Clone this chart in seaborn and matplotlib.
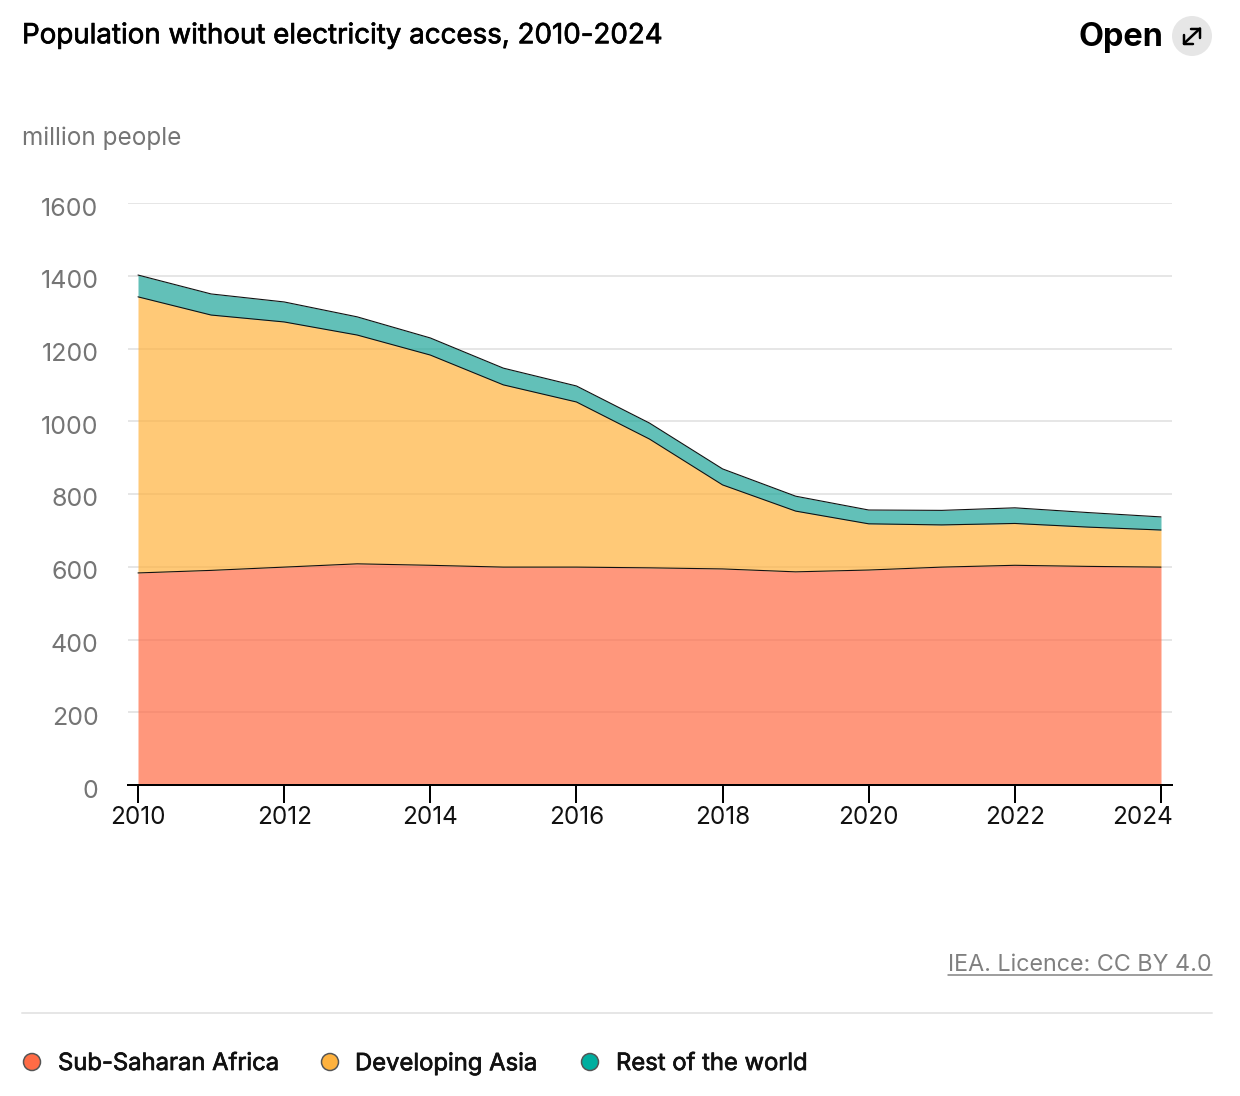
import matplotlib
matplotlib.use('Agg')
import matplotlib.pyplot as plt
import matplotlib.patheffects as pe
from matplotlib.patches import Circle
from matplotlib.transforms import ScaledTranslation
import pandas as pd
import seaborn as sns

years = list(range(2010, 2025))
africa = [583, 590, 599, 608, 604, 599, 599, 597, 594, 586, 591, 599, 604, 601, 599]
asia = [759, 702, 674, 629, 578, 501, 454, 354, 231, 167, 127, 116, 115, 108, 102]
rest = [60, 58, 55, 50, 47, 46, 44, 44, 44, 41, 38, 40, 43, 40, 36]
names = ['Sub-Saharan Africa', 'Developing Asia', 'Rest of the world']
fill_colors = ['#FF6B45', '#FFB23E', '#1FA69A']
legend_colors = ['#FF6B45', '#FFB23E', '#00AE9F']
yticks = [0, 200, 400, 600, 800, 1000, 1200, 1400, 1600]
xticks = [2010, 2012, 2014, 2016, 2018, 2020, 2022, 2024]

W, H = 1240, 1096
PX = 0.72  # one pixel in points

sns.set_theme(style='white')
plt.rcParams['font.family'] = ['Inter', 'DejaVu Sans']

fig = plt.figure(figsize=(W / 100, H / 100), dpi=100, facecolor='white')
ax = fig.add_axes([128 / W, 1 - 785 / H, (1172 - 128) / W, (785 - 203) / H])

df = pd.DataFrame({'year': years, 'africa': africa, 'asia': asia, 'rest': rest})
df['asia_top'] = df['africa'] + df['asia']
df['rest_top'] = df['asia_top'] + df['rest']

ax.stackplot(df['year'], df['africa'], df['asia'], df['rest'], colors=fill_colors, alpha=0.7,
             linewidth=0, zorder=2)
for col in ['africa', 'asia_top', 'rest_top']:
    sns.lineplot(data=df, x='year', y=col, color='#111111', linewidth=1.1 * PX, ax=ax, zorder=3)

ax.set_xlim(2010 - 10 / 73.07, 2024 + 11 / 73.07)
ax.set_ylim(0, 1600)
ax.set_xlabel('')
ax.set_ylabel('')
for side in ['top', 'left', 'right']:
    ax.spines[side].set_visible(False)
ax.spines['bottom'].set_color('black')
ax.spines['bottom'].set_linewidth(2 * PX)
ax.spines['bottom'].set_zorder(5)
ax.yaxis.grid(True, color='#e6e6e6', linewidth=2 * PX, zorder=1)
ax.set_axisbelow(True)
ax.patch.set_alpha(0)

ax.set_xticks(xticks)
ax.set_xticklabels([str(x) for x in xticks])
ax.tick_params(axis='x', bottom=True, length=18 * PX, width=2 * PX, color='black',
               labelsize=17.5, labelcolor='#111111', pad=2.3)
ax.set_yticks(yticks)
ax.set_yticklabels([str(y) for y in yticks])
ax.tick_params(axis='y', left=False, labelsize=18, labelcolor='#757575', pad=15.3)

# small nudges the tick params can't give
last = ax.get_xticklabels()[-1]
last.set_horizontalalignment('right')
last.set_transform(last.get_transform() + ScaledTranslation(12 / 100, 0, fig.dpi_scale_trans))
for lab in ax.get_yticklabels():
    lab.set_transform(lab.get_transform() + ScaledTranslation(0, -3.5 / 100, fig.dpi_scale_trans))

# overlay in pixel coordinates for page furniture
top = fig.add_axes([0, 0, 1, 1], zorder=10)
top.set_xlim(0, W)
top.set_ylim(H, 0)
top.axis('off')
top.patch.set_alpha(0)

title = top.text(22, 36, 'Population without electricity access, 2010-2024', fontsize=19.95,
                 color='black', va='center', ha='left')
title.set_path_effects([pe.withStroke(linewidth=0.5, foreground='black')])
top.text(1163, 37.5, 'Open', fontsize=23.4, fontweight='bold', color='black', va='center', ha='right')
top.add_patch(Circle((1192, 36), 20, facecolor='#e6e6e6', edgecolor='none'))
top.plot([1184, 1200], [43.5, 28.5], color='black', linewidth=2.5 * PX)
top.plot([1191, 1200, 1200], [28.5, 28.5, 37.5], color='black', linewidth=2.5 * PX)
top.plot([1184, 1184, 1193], [34.5, 43.5, 43.5], color='black', linewidth=2.5 * PX)
top.text(22, 138, 'million people', fontsize=17.5, color='#757575', va='center', ha='left')

top.text(1212, 965, 'IEA. Licence: CC BY 4.0', fontsize=16.75, color='#808080', va='center', ha='right')
top.plot([948, 1212], [975, 975], color='#808080', linewidth=1.5 * PX)
top.plot([22, 1212], [1013, 1013], color='#e6e6e6', linewidth=2 * PX)

for name, color, mx, tx in zip(names, legend_colors, [32, 330, 590], [58, 355, 616]):
    top.add_patch(Circle((mx, 1062), 8.5, facecolor=color, edgecolor='#555555', linewidth=1.5 * PX))
    lab = top.text(tx, 1064, name, fontsize=17.15, color='#111111', va='center', ha='left')
    lab.set_path_effects([pe.withStroke(linewidth=0.5, foreground='#111111')])

fig.savefig('out.png', dpi=100, facecolor='white')
plt.close(fig)
